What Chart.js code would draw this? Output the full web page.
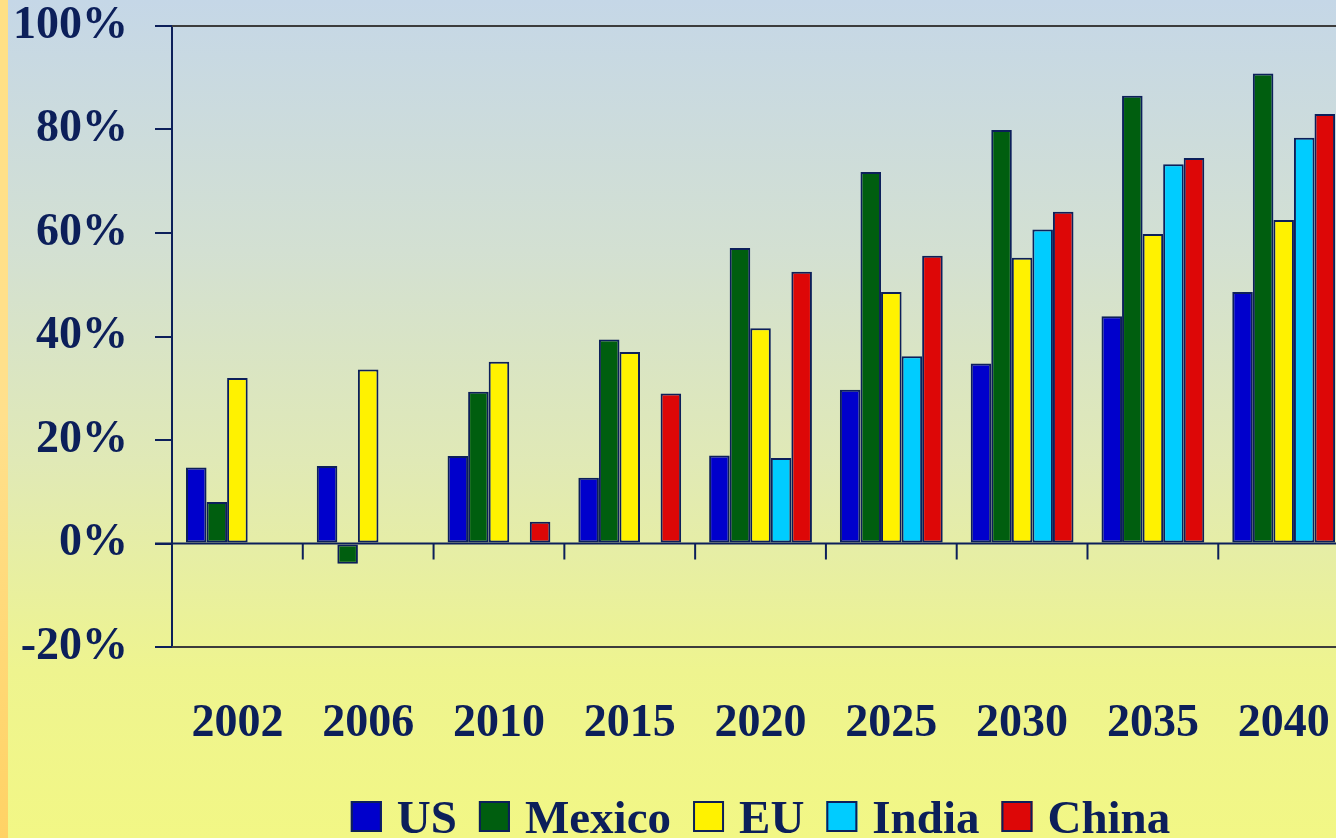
<!DOCTYPE html>
<html>
<head>
<meta charset="utf-8">
<title>Growth chart</title>
<script src="https://cdn.jsdelivr.net/npm/chart.js@4.4.1/dist/chart.umd.min.js"></script>
<style>
  html, body { margin: 0; padding: 0; overflow: hidden; width: 1336px; height: 838px; }
  body {
    background: linear-gradient(to bottom, #c5d7e7 0%, #d3e0d2 30%, #e0e9b6 55%, #eef48f 80%, #f2f785 100%);
    position: relative;
  }
  #stripe {
    position: absolute; left: 0; top: 0; width: 8px; height: 838px;
    background: linear-gradient(to bottom, #ffe085 0%, #ffe08c 50%, #ffd265 100%);
  }
  #wrap { position: absolute; left: 0; top: 0; }
</style>
</head>
<body>
<div id="stripe"></div>
<div id="wrap"><canvas id="chart" width="1380" height="838"></canvas></div>
<script>
const years = ['2002', '2006', '2010', '2015', '2020', '2025', '2030', '2035', '2040'];
const usValues = [14.7, 15.0, 16.9, 12.7, 17.0, 29.7, 34.8, 43.9, 48.6];
const mexicoValues = [8.0, -3.9, 29.3, 39.4, 57.1, 71.8, 79.9, 86.5, 90.8];
const euValues = [32.0, 33.6, 35.1, 37.0, 41.6, 48.6, 55.2, 59.8, 62.5];
const indiaValues = [null, null, null, null, 16.5, 36.2, 60.7, 73.3, 78.4];
const chinaValues = [null, null, 4.2, 29.0, 52.5, 55.6, 64.1, 74.5, 83.0];
const yTicks = [-20, 0, 20, 40, 60, 80, 100];

const NAVY = '#0c1f5a';
const FONT = "'Liberation Serif', 'Times New Roman', serif";

const series = [
  { label: 'US', data: usValues, color: '#0000cc' },
  { label: 'Mexico', data: mexicoValues, color: '#005e0f' },
  { label: 'EU', data: euValues, color: '#fff200' },
  { label: 'India', data: indiaValues, color: '#00ccff' },
  { label: 'China', data: chinaValues, color: '#dd0707' },
];

// axis frame: gray top/bottom lines, navy zero line with category ticks
const framePlugin = {
  id: 'frame',
  afterDatasetsDraw(chart) {
    const { ctx, chartArea: a, scales } = chart;
    const y0 = scales.y.getPixelForValue(0);
    ctx.save();
    ctx.lineWidth = 2;
    ctx.strokeStyle = '#3c3c3c';
    [yTicks[yTicks.length - 1], yTicks[0]].forEach((v) => {
      const y = scales.y.getPixelForValue(v);
      ctx.beginPath();
      ctx.moveTo(a.left, y);
      ctx.lineTo(a.right, y);
      ctx.stroke();
    });
    ctx.strokeStyle = NAVY;
    ctx.beginPath();
    ctx.moveTo(a.left - 17, y0);
    ctx.lineTo(a.right, y0);
    ctx.stroke();
    for (let i = 1; i < years.length; i++) {
      const x = (scales.x.getPixelForValue(i - 1) + scales.x.getPixelForValue(i)) / 2;
      ctx.beginPath();
      ctx.moveTo(x, y0);
      ctx.lineTo(x, y0 + 16);
      ctx.stroke();
    }
    ctx.restore();
  },
};

// legend drawn by hand so spacing matches
const legendPlugin = {
  id: 'bottomLegend',
  afterDraw(chart) {
    const { ctx, chartArea: a } = chart;
    const box = 31, gapText = 15, gapItem = 22;
    ctx.save();
    ctx.font = `bold 47px ${FONT}`;
    const widths = chart.data.datasets.map((d) => ctx.measureText(d.label).width);
    const total = widths.reduce((s, w) => s + box + gapText + w, 0) + gapItem * (widths.length - 1);
    let x = (a.left + a.right) / 2 - total / 2;
    const baseline = 833;
    chart.data.datasets.forEach((d, i) => {
      ctx.fillStyle = d.backgroundColor;
      ctx.fillRect(x, baseline - box - 1, box, box);
      ctx.lineWidth = 2;
      ctx.strokeStyle = NAVY;
      ctx.strokeRect(x + 1, baseline - box, box - 2, box - 2);
      x += box + gapText;
      ctx.fillStyle = NAVY;
      ctx.textBaseline = 'alphabetic';
      ctx.fillText(d.label, x, baseline);
      x += widths[i] + gapItem;
    });
    ctx.restore();
  },
};

new Chart(document.getElementById('chart'), {
  type: 'bar',
  data: {
    labels: years,
    datasets: series.map((s) => ({
      label: s.label,
      data: s.data,
      backgroundColor: s.color,
      borderColor: NAVY,
      borderWidth: 2,
      borderSkipped: false,
      categoryPercentage: 0.786,
      barPercentage: 1,
    })),
  },
  options: {
    responsive: false,
    animation: false,
    layout: { padding: { left: 0, top: 26, right: 6, bottom: 0 } },
    plugins: { legend: { display: false }, tooltip: { enabled: false } },
    scales: {
      x: {
        grid: { display: false, drawTicks: false },
        border: { display: false },
        ticks: { color: NAVY, font: { family: FONT, size: 46, weight: 'bold' }, padding: 50, maxRotation: 0 },
        afterFit: (s) => { s.height = 191; },
      },
      y: {
        min: -20,
        max: 100,
        afterBuildTicks: (s) => { s.ticks = yTicks.map((v) => ({ value: v })); },
        grid: { drawOnChartArea: false, drawTicks: true, tickLength: 17, color: NAVY, lineWidth: 2 },
        border: { color: NAVY, width: 2 },
        ticks: {
          color: NAVY,
          font: { family: FONT, size: 46, weight: 'bold' },
          padding: 27,
          callback: (v) => `${v}%`,
        },
        afterFit: (s) => {
          s.width = 172;
          s.paddingTop = 0;
          s.paddingBottom = 0;
        },
      },
    },
  },
  plugins: [framePlugin, legendPlugin],
});
</script>
</body>
</html>
